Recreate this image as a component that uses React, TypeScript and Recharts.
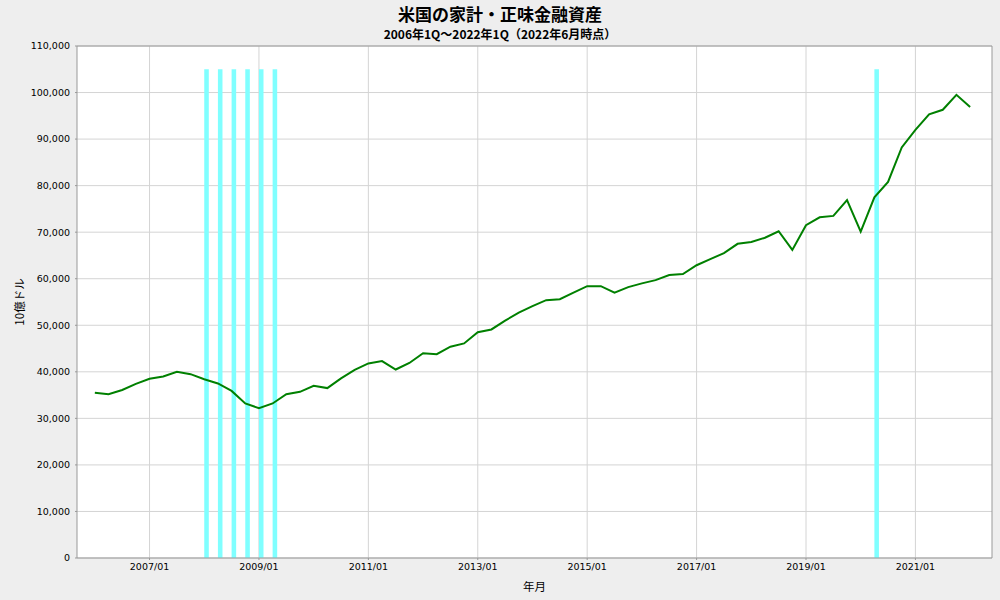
import React from 'react';
import {
  ComposedChart,
  Line,
  XAxis,
  YAxis,
  CartesianGrid,
  ReferenceArea,
  ReferenceLine,
} from 'recharts';

// ---- data ----
const titleText = '米国の家計・正味金融資産';
const subtitleText = '2006年1Q～2022年1Q（2022年6月時点）';
const xAxisTitle = '年月';
const yAxisTitle = '10億ドル';

const years = [2006, 2007, 2008, 2009, 2010, 2011, 2012, 2013, 2014, 2015, 2016, 2017, 2018, 2019, 2020, 2021, 2022];
const quarterMonths = ['01', '04', '07', '10'];
const quarterLabels = years
  .flatMap((y) => quarterMonths.map((m) => `${y}/${m}`))
  .filter((p) => p <= '2022/01');

// 10億ドル, quarterly 2006Q1 .. 2022Q1
const netFinancialAssets = [
  35500, 35200, 36100, 37400, 38500, 39000, 40000, 39500,
  38400, 37500, 35900, 33200, 32200, 33200, 35200, 35700,
  37000, 36500, 38600, 40400, 41800, 42300, 40500, 41900,
  44000, 43800, 45400, 46100, 48500, 49100, 51000, 52700,
  54100, 55400, 55600, 57000, 58400, 58400, 57000, 58200,
  59000, 59700, 60800, 61000, 62900, 64200, 65500, 67500,
  67900, 68800, 70200, 66200, 71500, 73200, 73500, 76900,
  70100, 77500, 80800, 88200, 92000, 95300, 96300, 99500,
  96900,
];

const recessionMonths = ['2008/01', '2008/04', '2008/07', '2008/10', '2009/01', '2009/04', '2020/04'];
const recessionTop = 105000;

const xTickLabels = ['2007/01', '2009/01', '2011/01', '2013/01', '2015/01', '2017/01', '2019/01', '2021/01'];
const yTicks = [0, 10000, 20000, 30000, 40000, 50000, 60000, 70000, 80000, 90000, 100000, 110000];
const rightTicks = [0, 1, 2, 3, 4, 5, 6, 7, 8, 9, 10, 11, 12, 13, 14, 15, 16, 17, 18, 19, 20];

// ---- helpers ----
const toYear = (label: string) => {
  const [y, m] = label.split('/').map(Number);
  return y + (m - 1) / 12;
};

const chartData = quarterLabels.map((p, i) => ({ x: toYear(p), v: netFinancialAssets[i] }));
const xTicks = xTickLabels.map(toYear);
const fmtX = (v: number) => xTickLabels.find((l) => Math.abs(toYear(l) - v) < 1e-6) ?? '';
const fmtY = (v: number) => v.toLocaleString('en-US');

const tickStyle = { fontSize: 9.5, fill: '#000', fontFamily: 'DejaVu Sans' };
const axisGray = '#999999';

export default function App() {
  return (
    <div
      style={{
        position: 'absolute',
        left: 0,
        top: 0,
        width: 1000,
        height: 600,
        background: '#eeeeee',
        overflow: 'hidden',
      }}
    >
      <div
        style={{
          position: 'absolute',
          top: 4.5,
          left: 0,
          width: 1000,
          textAlign: 'center',
          fontFamily: '"Noto Sans CJK JP", sans-serif',
          fontWeight: 700,
          fontSize: 17,
          lineHeight: '17px',
          color: '#000',
        }}
      >
        {titleText}
      </div>
      <div
        style={{
          position: 'absolute',
          top: 28.3,
          left: 0,
          width: 1000,
          textAlign: 'center',
          fontFamily: '"Noto Sans CJK JP", sans-serif',
          fontWeight: 700,
          fontSize: 12,
          lineHeight: '12px',
          color: '#000',
        }}
      >
        {subtitleText}
      </div>
      <ComposedChart
        width={1000}
        height={600}
        data={chartData}
        margin={{ top: 46, right: 0, bottom: 0, left: 0 }}
      >
        <CartesianGrid
          stroke="#d4d4d4"
          fill="#ffffff"
          horizontalValues={yTicks}
          verticalValues={xTicks}
        />
        <XAxis
          dataKey="x"
          type="number"
          domain={[2005.674, 2022.4]}
          allowDataOverflow
          ticks={xTicks}
          tickFormatter={fmtX}
          height={42}
          tick={tickStyle}
          tickSize={2}
          tickMargin={3}
          stroke={axisGray}
          axisLine={{ stroke: axisGray }}
          tickLine={{ stroke: axisGray }}
          interval={0}
          label={{
            value: xAxisTitle,
            position: 'insideBottom',
            offset: 9,
            style: { fontSize: 11.5, fill: '#000', fontFamily: '"Noto Sans CJK JP", sans-serif' },
          }}
        />
        <YAxis
          type="number"
          domain={[0, 110000]}
          ticks={yTicks}
          tickFormatter={fmtY}
          width={77}
          tick={tickStyle}
          tickSize={2}
          tickMargin={5}
          axisLine={{ stroke: axisGray }}
          tickLine={{ stroke: axisGray }}
          interval={0}
          label={{
            value: yAxisTitle,
            angle: -90,
            position: 'insideLeft',
            offset: 20,
            style: {
              textAnchor: 'middle',
              fontSize: 11.5,
              fill: '#000',
              fontFamily: '"Noto Sans CJK JP", sans-serif',
            },
          }}
        />
        <YAxis
          yAxisId="right"
          orientation="right"
          type="number"
          domain={[0, 20.84]}
          ticks={rightTicks}
          width={8}
          tick={false}
          tickSize={4}
          axisLine={{ stroke: axisGray }}
          tickLine={{ stroke: axisGray }}
          interval={0}
        />
        <ReferenceLine y={110000} stroke={axisGray} ifOverflow="visible" />
        {recessionMonths.map((m) => (
          <ReferenceArea
            key={m}
            x1={toYear(m)}
            x2={toYear(m) + 1 / 12}
            y1={0}
            y2={recessionTop}
            fill="#80ffff"
            fillOpacity={1}
            stroke="none"
            ifOverflow="visible"
          />
        ))}
        <Line
          type="linear"
          dataKey="v"
          stroke="#008000"
          strokeWidth={2}
          dot={false}
          activeDot={false}
          isAnimationActive={false}
        />
      </ComposedChart>
    </div>
  );
}
